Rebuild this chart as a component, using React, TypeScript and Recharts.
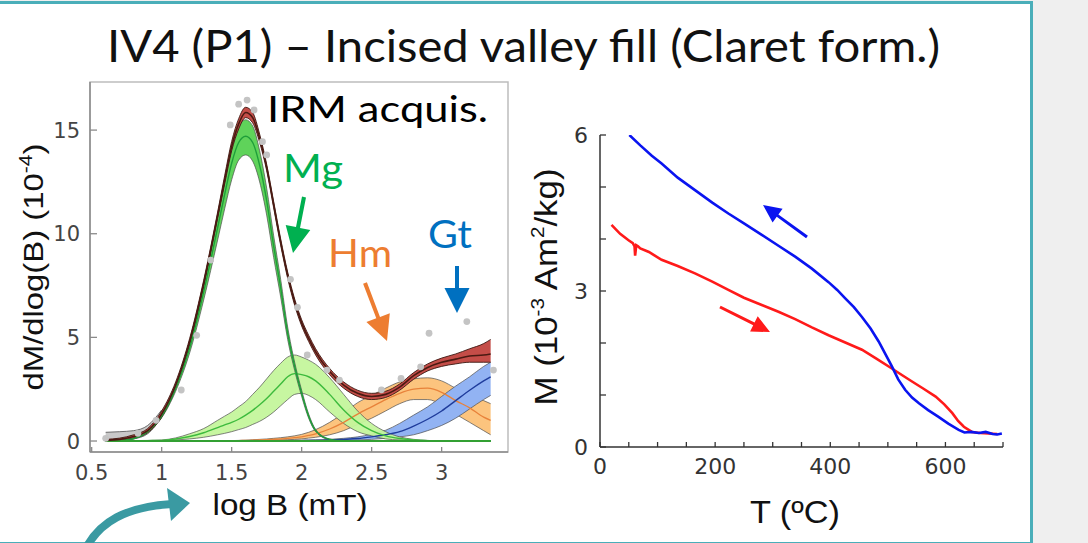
import React from 'react';
import {
  ComposedChart,
  Area,
  Line,
  Scatter,
  XAxis,
  YAxis,
  ReferenceLine,
  ReferenceArea,
} from 'recharts';

// ---- IRM acquisition (left panel), x = log B (mT) ----
const logB = [0.6, 0.7, 0.8, 0.9, 1.0, 1.1, 1.2, 1.3, 1.4, 1.45, 1.5, 1.55, 1.6, 1.65, 1.7, 1.75, 1.8, 1.85, 1.9, 1.95, 2.0, 2.05, 2.1, 2.2, 2.3, 2.4, 2.5, 2.6, 2.7, 2.8, 2.9, 3.0, 3.1, 3.2, 3.3, 3.35];

const totalFit = [0.03, 0.08, 0.22, 0.5, 1.3, 2.7, 4.8, 7.6, 10.9, 12.6, 14.2, 15.3, 15.85, 15.6, 14.6, 13.2, 11.4, 9.6, 8.0, 6.7, 5.7, 4.95, 4.3, 3.35, 2.7, 2.3, 2.15, 2.25, 2.6, 3.15, 3.55, 3.8, 3.95, 4.1, 4.15, 4.2];
const totalLo = [0, 0.03, 0.15, 0.4, 1.15, 2.55, 4.65, 7.45, 10.75, 12.4, 14.0, 15.05, 15.6, 15.35, 14.4, 13.05, 11.25, 9.45, 7.85, 6.55, 5.55, 4.8, 4.15, 3.2, 2.55, 2.15, 2.0, 2.1, 2.45, 2.98, 3.38, 3.6, 3.72, 3.8, 3.8, 3.8];
const totalHi = [0.08, 0.14, 0.3, 0.6, 1.45, 2.85, 4.95, 7.75, 11.05, 12.8, 14.45, 15.55, 16.1, 15.85, 14.8, 13.35, 11.55, 9.75, 8.15, 6.85, 5.85, 5.1, 4.45, 3.5, 2.85, 2.45, 2.3, 2.4, 2.75, 3.3, 3.72, 4.0, 4.2, 4.45, 4.7, 4.9];

// magnetite, main (narrow) component
const mg1Fit = [0, 0.02, 0.12, 0.45, 1.2, 2.55, 4.5, 7.2, 10.3, 11.9, 13.4, 14.4, 14.7, 14.4, 13.3, 11.6, 9.4, 7.4, 5.2, 3.6, 2.3, 1.2, 0.5, 0.08, 0.01, 0, 0, 0, 0, 0, 0, 0, 0, 0, 0, 0];
const mg1Lo = [0, 0.01, 0.1, 0.42, 1.12, 2.4, 4.25, 6.8, 9.7, 11.2, 12.6, 13.55, 13.8, 13.5, 12.5, 10.9, 8.85, 6.95, 4.9, 3.4, 2.15, 1.1, 0.45, 0.06, 0, 0, 0, 0, 0, 0, 0, 0, 0, 0, 0, 0];
const mg1Hi = [0, 0.03, 0.14, 0.5, 1.3, 2.7, 4.75, 7.55, 10.85, 12.5, 14.1, 15.2, 15.5, 15.2, 14.0, 12.2, 9.9, 7.8, 5.5, 3.8, 2.45, 1.3, 0.56, 0.1, 0.02, 0, 0, 0, 0, 0, 0, 0, 0, 0, 0, 0];

// magnetite, broad component
const mg2Fit = [0, 0, 0.01, 0.02, 0.03, 0.1, 0.22, 0.4, 0.65, 0.78, 0.9, 1.05, 1.25, 1.48, 1.75, 2.05, 2.4, 2.75, 3.1, 3.25, 3.2, 3.1, 2.9, 2.25, 1.5, 0.9, 0.5, 0.25, 0.12, 0.05, 0.02, 0, 0, 0, 0, 0];
const mg2Lo = [0, 0, 0, 0.01, 0.01, 0.05, 0.1, 0.18, 0.3, 0.37, 0.45, 0.55, 0.65, 0.8, 0.95, 1.15, 1.4, 1.7, 2.0, 2.25, 2.3, 2.2, 2.0, 1.4, 0.85, 0.45, 0.25, 0.1, 0.05, 0.02, 0, 0, 0, 0, 0, 0];
const mg2Hi = [0, 0.01, 0.02, 0.03, 0.05, 0.15, 0.35, 0.6, 1.0, 1.2, 1.4, 1.65, 1.9, 2.25, 2.6, 3.0, 3.4, 3.75, 4.05, 4.15, 4.05, 3.9, 3.7, 3.05, 2.25, 1.45, 0.85, 0.45, 0.2, 0.08, 0.03, 0, 0, 0, 0, 0];

// hematite
const hmFit = [0, 0, 0, 0, 0, 0, 0, 0, 0, 0, 0.01, 0.02, 0.03, 0.04, 0.05, 0.06, 0.08, 0.1, 0.13, 0.16, 0.2, 0.27, 0.35, 0.58, 0.9, 1.3, 1.65, 2.0, 2.3, 2.5, 2.55, 2.35, 1.95, 1.6, 1.15, 1.0];
const hmLo = [0, 0, 0, 0, 0, 0, 0, 0, 0, 0, 0, 0.01, 0.01, 0.02, 0.02, 0.03, 0.04, 0.05, 0.06, 0.08, 0.1, 0.14, 0.18, 0.3, 0.5, 0.8, 1.1, 1.45, 1.8, 2.0, 2.0, 1.75, 1.3, 0.9, 0.5, 0.3];
const hmHi = [0, 0, 0, 0, 0, 0, 0, 0, 0, 0.01, 0.02, 0.03, 0.04, 0.06, 0.08, 0.1, 0.13, 0.16, 0.2, 0.25, 0.32, 0.42, 0.55, 0.9, 1.35, 1.85, 2.2, 2.55, 2.85, 3.0, 3.05, 2.9, 2.55, 2.25, 1.95, 1.8];

// goethite
const gtFit = [0, 0, 0, 0, 0, 0, 0, 0, 0, 0, 0, 0, 0, 0.01, 0.01, 0.01, 0.01, 0.01, 0.02, 0.02, 0.02, 0.03, 0.03, 0.05, 0.08, 0.12, 0.2, 0.3, 0.45, 0.72, 1.05, 1.45, 1.95, 2.45, 2.9, 3.1];
const gtLo = [0, 0, 0, 0, 0, 0, 0, 0, 0, 0, 0, 0, 0, 0, 0, 0, 0, 0, 0, 0, 0, 0.01, 0.01, 0.02, 0.03, 0.05, 0.08, 0.13, 0.2, 0.3, 0.5, 0.75, 1.1, 1.55, 2.0, 2.2];
const gtHi = [0, 0, 0, 0, 0, 0, 0, 0, 0, 0, 0, 0.01, 0.01, 0.02, 0.02, 0.02, 0.03, 0.03, 0.03, 0.04, 0.04, 0.05, 0.06, 0.08, 0.13, 0.2, 0.33, 0.52, 0.85, 1.25, 1.65, 2.15, 2.65, 3.1, 3.6, 3.8];

// grey envelope at low fields
const lowLo = [0, 0.02, 0.1, 0.35, 1.15, null, null, null, null, null, null, null, null, null, null, null, null, null, null, null, null, null, null, null, null, null, null, null, null, null, null, null, null, null, null, null];
const lowHi = [0.42, 0.45, 0.5, 0.75, 1.5, null, null, null, null, null, null, null, null, null, null, null, null, null, null, null, null, null, null, null, null, null, null, null, null, null, null, null, null, null, null, null];

// measured points
const dotB = [0.6, 0.83, 0.96, 1.14, 1.25, 1.35, 1.49, 1.55, 1.61, 1.66, 1.72, 1.75, 1.92, 1.97, 2.04, 2.18, 2.27, 2.57, 2.71, 2.85, 2.91, 3.18, 3.37];
const dotV = [0.13, 0.37, 1.0, 2.46, 5.1, 8.73, 15.25, 16.25, 16.45, 15.97, 14.44, 13.8, 7.8, 6.45, 4.15, 3.42, 2.94, 2.47, 3.02, 3.58, 5.2, 5.76, 3.42];

const irmXTicks = [0.5, 1, 1.5, 2, 2.5, 3];
const irmYTicks = [0, 5, 10, 15];

// ---- thermomagnetic curve (right panel) ----
const heatT = [20, 35, 49, 57, 60, 61, 63, 66, 70, 85, 107, 135, 165, 195, 223, 250, 281, 310, 339, 368, 397, 426, 455, 480, 507, 525, 542, 562, 583, 598, 612, 622, 632, 646, 660, 675, 690];
const heatM = [4.27, 4.1, 3.98, 3.92, 3.86, 3.68, 3.88, 3.86, 3.82, 3.75, 3.6, 3.48, 3.34, 3.18, 3.02, 2.87, 2.73, 2.6, 2.46, 2.3, 2.15, 2.01, 1.87, 1.7, 1.51, 1.38, 1.26, 1.12, 0.97, 0.82, 0.65, 0.5, 0.39, 0.29, 0.27, 0.26, 0.25];
const coolT = [51, 70, 90, 107, 135, 165, 195, 223, 250, 281, 310, 339, 368, 397, 412, 426, 441, 455, 470, 484, 496, 507, 518, 530, 542, 554, 570, 588, 605, 623, 633, 645, 658, 670, 682, 690, 698];
const coolM = [6.0, 5.8, 5.6, 5.45, 5.18, 4.94, 4.7, 4.49, 4.3, 4.08, 3.87, 3.66, 3.43, 3.17, 3.02, 2.86, 2.69, 2.5, 2.28, 2.03, 1.78, 1.55, 1.3, 1.1, 0.95, 0.84, 0.71, 0.58, 0.45, 0.33, 0.28, 0.29, 0.27, 0.29, 0.25, 0.24, 0.26];

const tmXTicks = [0, 50, 100, 150, 200, 250, 300, 350, 400, 450, 500, 550, 600, 650, 700];
const tmXLabels = [0, 200, 400, 600];
const tmYTicks = [0, 1, 2, 3, 4, 5, 6];
const tmYLabels = [0, 3, 6];

const irmRows = logB.map((b, i) => ({
  b,
  total: totalFit[i],
  totalBand: [totalLo[i], totalHi[i]],
  mg1: mg1Fit[i],
  mg1Band: [mg1Lo[i], mg1Hi[i]],
  mg2: mg2Fit[i],
  mg2Band: [mg2Lo[i], mg2Hi[i]],
  hm: hmFit[i],
  hmBand: [hmLo[i], hmHi[i]],
  gt: gtFit[i],
  gtBand: [gtLo[i], gtHi[i]],
  lowBand: lowLo[i] == null ? null : [lowLo[i], lowHi[i]],
}));
const dots = dotB.map((x, i) => ({ b: x, v: dotV[i] }));
const heatRows = heatT.map((t, i) => ({ t, m: heatM[i] }));
const coolRows = coolT.map((t, i) => ({ t, m: coolM[i] }));

const tickFont = '"DejaVu Sans", Verdana, sans-serif';
const titleFont = '"Liberation Sans", Arial, sans-serif';
const calibriLike = 'Lato, "Open Sans", sans-serif';

// inward ticks, labels only where asked
const yTick = (gap: number, len: number, labels: number[], size: number, color: string, stroke: string) =>
  (p: any) => {
    const v = p.payload.value;
    const ax = p.x + gap;
    return (
      <g>
        <line x1={ax} x2={ax + len} y1={p.y} y2={p.y} stroke={stroke} strokeWidth={1.3} />
        {labels.includes(v) && (
          <text x={p.x} y={p.y} dy="0.36em" textAnchor="end" fontSize={size} fill={color} fontFamily={tickFont}>
            {String(v)}
          </text>
        )}
      </g>
    );
  };

const xTick = (gap: number, len: number, labels: number[], size: number, color: string, stroke: string) =>
  (p: any) => {
    const v = p.payload.value;
    const ay = p.y - gap;
    return (
      <g>
        <line x1={p.x} x2={p.x} y1={ay} y2={ay - len} stroke={stroke} strokeWidth={1.3} />
        {labels.includes(v) && (
          <text x={p.x} y={p.y} dy="0.72em" textAnchor="middle" fontSize={size} fill={color} fontFamily={tickFont}>
            {String(v)}
          </text>
        )}
      </g>
    );
  };

function arrowPath(x1: number, y1: number, x2: number, y2: number, w: number, hl: number, hw: number) {
  const L = Math.hypot(x2 - x1, y2 - y1);
  const ux = (x2 - x1) / L;
  const uy = (y2 - y1) / L;
  const px = -uy;
  const py = ux;
  const bx = x2 - ux * hl;
  const by = y2 - uy * hl;
  const pt = (x: number, y: number) => `${x.toFixed(1)},${y.toFixed(1)}`;
  return `M${pt(x1 + (px * w) / 2, y1 + (py * w) / 2)} L${pt(bx + (px * w) / 2, by + (py * w) / 2)} L${pt(bx + (px * hw) / 2, by + (py * hw) / 2)} L${pt(x2, y2)} L${pt(bx - (px * hw) / 2, by - (py * hw) / 2)} L${pt(bx - (px * w) / 2, by - (py * w) / 2)} L${pt(x1 - (px * w) / 2, y1 - (py * w) / 2)} Z`;
}

const bandStroke = '#4d4d4d';
const irmAxis = '#8a8a8a';
const tmAxis = '#333';

const IrmChart: React.FC = () => (
  <div style={{ position: 'absolute', left: 0, top: 0 }}>
    <ComposedChart width={520} height={543} data={irmRows} margin={{ top: 82, right: 12, bottom: 31, left: 10 }}>
      <XAxis
        dataKey="b"
        type="number"
        domain={[0.488, 3.474]}
        allowDataOverflow
        ticks={irmXTicks}
        interval={0}
        height={60}
        tickSize={0}
        tickMargin={13}
        tickLine={false}
        axisLine={{ stroke: irmAxis, strokeWidth: 1.5 }}
        tick={xTick(13, 5, irmXTicks, 21, '#444', irmAxis)}
      />
      <YAxis
        type="number"
        domain={[-0.53, 17.32]}
        allowDataOverflow
        ticks={irmYTicks}
        interval={0}
        width={80}
        tickSize={0}
        tickMargin={10}
        tickLine={false}
        axisLine={{ stroke: irmAxis, strokeWidth: 1.5 }}
        tick={yTick(10, 7, irmYTicks, 21, '#444', irmAxis)}
      />
      <ReferenceArea x1={0.488} x2={3.474} y1={-0.53} y2={17.32} fill="none" stroke="#bdbdbd" strokeWidth={1.5} />
      <Scatter
        data={dots}
        dataKey="v"
        isAnimationActive={false}
        shape={(p: any) => <circle cx={p.cx} cy={p.cy} r={3.4} fill="#c4c4c4" />}
      />
      <Area type="monotone" dataKey="lowBand" fill="#c9c9c9" fillOpacity={1} stroke={bandStroke} strokeWidth={0.8} isAnimationActive={false} dot={false} activeDot={false} />
      <Area type="monotone" dataKey="hmBand" fill="#fcc47e" fillOpacity={1} stroke={bandStroke} strokeWidth={0.7} isAnimationActive={false} dot={false} activeDot={false} />
      <Line type="monotone" dataKey="hm" stroke="#e8823a" strokeWidth={1.3} dot={false} activeDot={false} isAnimationActive={false} />
      <Area type="monotone" dataKey="gtBand" fill="#92b3f3" fillOpacity={1} stroke={bandStroke} strokeWidth={0.7} isAnimationActive={false} dot={false} activeDot={false} />
      <Line type="monotone" dataKey="gt" stroke="#1f3c9c" strokeWidth={1.4} dot={false} activeDot={false} isAnimationActive={false} />
      <Area type="monotone" dataKey="mg2Band" fill="#c4f59c" fillOpacity={0.95} stroke={bandStroke} strokeWidth={0.7} isAnimationActive={false} dot={false} activeDot={false} />
      <Line type="monotone" dataKey="mg2" stroke="#3dbb3d" strokeWidth={1.4} dot={false} activeDot={false} isAnimationActive={false} />
      <Area type="monotone" dataKey="mg1Band" fill="#5fd35a" fillOpacity={1} stroke={bandStroke} strokeWidth={0.7} isAnimationActive={false} dot={false} activeDot={false} />
      <Line type="monotone" dataKey="mg1" stroke="#1f9e3a" strokeWidth={1.4} dot={false} activeDot={false} isAnimationActive={false} />
      <ReferenceLine segment={[{ x: 0.6, y: 0 }, { x: 3.35, y: 0 }]} stroke="#33a033" strokeWidth={2} />
      <Area type="monotone" dataKey="totalBand" fill="#c44d48" fillOpacity={1} stroke="#3a1812" strokeWidth={0.9} isAnimationActive={false} dot={false} activeDot={false} />
      <Line type="monotone" dataKey="total" stroke="#4a1a12" strokeWidth={1.6} dot={false} activeDot={false} isAnimationActive={false} />
    </ComposedChart>
  </div>
);

const ThermoChart: React.FC = () => (
  <div style={{ position: 'absolute', left: 520, top: 0 }}>
    <ComposedChart width={540} height={543} margin={{ top: 135, right: 57, bottom: 36, left: 10 }}>
      <XAxis
        dataKey="t"
        type="number"
        domain={[0, 700]}
        allowDataOverflow
        ticks={tmXTicks}
        interval={0}
        height={60}
        tickSize={0}
        tickMargin={11}
        tickLine={false}
        axisLine={{ stroke: tmAxis, strokeWidth: 1.5 }}
        tick={xTick(11, 5, tmXLabels, 22, '#333', tmAxis)}
      />
      <YAxis
        type="number"
        domain={[0, 6]}
        allowDataOverflow
        ticks={tmYTicks}
        interval={0}
        width={70}
        tickSize={0}
        tickMargin={12}
        tickLine={false}
        axisLine={{ stroke: tmAxis, strokeWidth: 1.5 }}
        tick={yTick(12, 6, tmYLabels, 22, '#333', tmAxis)}
      />
      <Line data={heatRows} dataKey="m" type="linear" stroke="#ff1a1a" strokeWidth={2.6} dot={false} activeDot={false} isAnimationActive={false} />
      <Line data={coolRows} dataKey="m" type="linear" stroke="#0a14f0" strokeWidth={2.6} dot={false} activeDot={false} isAnimationActive={false} />
    </ComposedChart>
  </div>
);

const Overlay: React.FC = () => (
  <svg width={1088} height={543} style={{ position: 'absolute', left: 0, top: 0, pointerEvents: 'none' }}>
    <text x={107} y={62} fontSize={44} fontFamily={calibriLike} textLength={833} lengthAdjust="spacingAndGlyphs" fill="#111">
      IV4 (P1) – Incised valley fill (Claret form.)
    </text>
    <text x={267} y={122} fontSize={37} fontFamily={calibriLike} textLength={221} lengthAdjust="spacingAndGlyphs" fill="#000">
      IRM acquis.
    </text>
    <text x={283} y={182} fontSize={39} fontFamily={calibriLike} textLength={60} lengthAdjust="spacingAndGlyphs" fill="#00b050">
      Mg
    </text>
    <text x={328} y={267} fontSize={39} fontFamily={calibriLike} textLength={64} lengthAdjust="spacingAndGlyphs" fill="#ed7d31">
      Hm
    </text>
    <text x={428} y={248} fontSize={39} fontFamily={calibriLike} textLength={44} lengthAdjust="spacingAndGlyphs" fill="#0070c0">
      Gt
    </text>
    <path d={arrowPath(304, 197, 293, 253, 4, 26, 25)} fill="#00b050" />
    <path d={arrowPath(365, 283, 387, 341, 4, 25, 25)} fill="#ed7d31" />
    <path d={arrowPath(457, 266, 457, 313, 4, 25, 25)} fill="#0070c0" />
    <path d={arrowPath(807, 237, 763, 205, 3, 18, 17)} fill="#0a14f0" />
    <path d={arrowPath(720, 307, 770, 332, 3, 18, 17)} fill="#ff1a1a" />

    <path d="M 86 548 C 100 522, 125 507, 172 504" stroke="#3a9aa2" strokeWidth={8} fill="none" />
    <polygon points="167,488 190,503 171,521" fill="#3a9aa2" />

    <text x={290} y={515} fontSize={30} fontFamily={titleFont} textAnchor="middle" textLength={155} lengthAdjust="spacingAndGlyphs" fill="#111">
      log B (mT)
    </text>
    <text x={795} y={523} fontSize={32} fontFamily={titleFont} textAnchor="middle" textLength={90} lengthAdjust="spacingAndGlyphs" fill="#111">
      T (ºC)
    </text>
    <text transform="translate(43,267) rotate(-90)" fontSize={28} fontFamily={titleFont} textAnchor="middle" textLength={247} lengthAdjust="spacingAndGlyphs" fill="#111">
      dM/dlog(B) (10<tspan fontSize={18} dy={-11}>-4</tspan><tspan dy={11}>)</tspan>
    </text>
    <text transform="translate(557,287) rotate(-90)" fontSize={32} fontFamily={titleFont} textAnchor="middle" textLength={237} lengthAdjust="spacingAndGlyphs" fill="#111">
      M (10<tspan fontSize={19} dy={-13}>-3</tspan><tspan dy={13}> Am</tspan><tspan fontSize={19} dy={-13}>2</tspan><tspan dy={13}>/kg)</tspan>
    </text>
  </svg>
);

export default function App() {
  return (
    <div style={{ position: 'absolute', left: 0, top: 0, width: 1088, height: 543, background: '#efefef', overflow: 'hidden' }}>
      <div
        style={{
          position: 'absolute',
          left: -10,
          top: 1,
          width: 1037,
          height: 538,
          background: '#fff',
          border: '3px solid #4aaeb9',
        }}
      />
      <IrmChart />
      <ThermoChart />
      <Overlay />
    </div>
  );
}
